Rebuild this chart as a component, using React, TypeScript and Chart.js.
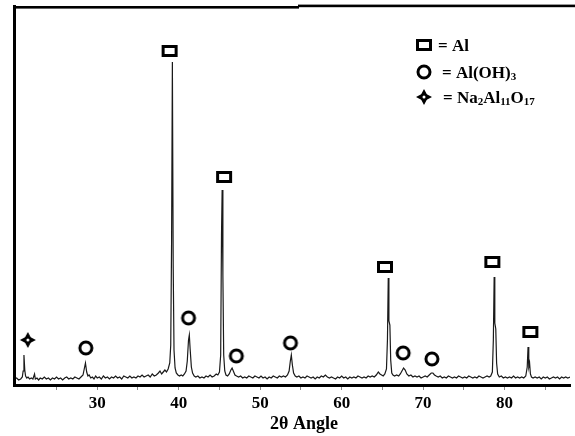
import React, { useEffect, useRef } from "react";
import { Chart, registerables } from "chart.js";
Chart.register(...registerables);

// XRD scan: [2θ, intensity]
const scan: [number, number][] = [
  [19.85, 6], [20.1, 7], [20.35, 5], [20.6, 6], [20.8, 8], [20.9, 14], [21.0, 30], [21.1, 15], [21.2, 9], [21.35, 7],
  [21.5, 8], [21.7, 6], [21.9, 7], [22.1, 6], [22.3, 11], [22.4, 6], [22.6, 7], [22.8, 5], [23.0, 7], [23.25, 6],
  [23.5, 8], [23.75, 6], [24.0, 7], [24.25, 5], [24.5, 7], [24.75, 6], [25.0, 8], [25.25, 6], [25.5, 7], [25.75, 5],
  [26.0, 7], [26.25, 8], [26.5, 6], [26.75, 7], [27.0, 6], [27.25, 8], [27.5, 7], [27.75, 6], [28.0, 8], [28.25, 10],
  [28.4, 16], [28.55, 22], [28.7, 13], [28.85, 9], [29.0, 10], [29.2, 7], [29.4, 8], [29.6, 6], [29.8, 9], [30.0, 7],
  [30.25, 8], [30.5, 6], [30.75, 9], [31.0, 7], [31.25, 8], [31.5, 6], [31.75, 8], [32.0, 7], [32.25, 9], [32.5, 7],
  [32.75, 8], [33.0, 6], [33.25, 9], [33.5, 8], [33.75, 7], [34.0, 9], [34.25, 7], [34.5, 8], [34.75, 7], [35.0, 9],
  [35.25, 8], [35.5, 10], [35.75, 8], [36.0, 9], [36.25, 10], [36.5, 8], [36.75, 11], [37.0, 9], [37.25, 10], [37.5, 12],
  [37.7, 14], [37.9, 11], [38.1, 13], [38.3, 15], [38.5, 13], [38.7, 16], [38.9, 22], [39.02, 40], [39.12, 140], [39.22, 323],
  [39.32, 120], [39.42, 35], [39.55, 17], [39.7, 12], [39.9, 10], [40.1, 9], [40.3, 10], [40.5, 9], [40.7, 11], [40.9, 14],
  [41.05, 24], [41.2, 45], [41.3, 50], [41.4, 36], [41.55, 18], [41.7, 12], [41.9, 9], [42.1, 8], [42.35, 9], [42.6, 7],
  [42.85, 8], [43.1, 7], [43.35, 9], [43.6, 8], [43.85, 10], [44.1, 8], [44.35, 9], [44.6, 11], [44.8, 10], [45.0, 13],
  [45.15, 30], [45.25, 150], [45.33, 195], [45.42, 110], [45.52, 30], [45.65, 14], [45.8, 10], [46.0, 9], [46.2, 11], [46.4, 15],
  [46.55, 17], [46.7, 14], [46.9, 10], [47.1, 9], [47.35, 8], [47.6, 9], [47.85, 7], [48.1, 8], [48.35, 7], [48.6, 9],
  [48.85, 8], [49.1, 7], [49.35, 9], [49.6, 8], [49.85, 7], [50.1, 9], [50.35, 7], [50.6, 8], [50.85, 6], [51.1, 8],
  [51.35, 7], [51.6, 9], [51.85, 8], [52.1, 7], [52.35, 9], [52.6, 8], [52.85, 9], [53.1, 8], [53.35, 10], [53.55, 14],
  [53.7, 24], [53.82, 30], [53.95, 20], [54.1, 12], [54.3, 9], [54.5, 8], [54.75, 9], [55.0, 7], [55.25, 8], [55.5, 7],
  [55.75, 9], [56.0, 8], [56.25, 7], [56.5, 8], [56.75, 6], [57.0, 8], [57.25, 7], [57.5, 9], [57.75, 8], [58.0, 10],
  [58.25, 8], [58.5, 7], [58.75, 8], [59.0, 7], [59.25, 6], [59.5, 8], [59.75, 7], [60.0, 9], [60.25, 7], [60.5, 8],
  [60.75, 6], [61.0, 8], [61.25, 7], [61.5, 8], [61.75, 7], [62.0, 9], [62.25, 8], [62.5, 7], [62.75, 8], [63.0, 7],
  [63.25, 9], [63.5, 8], [63.75, 9], [64.0, 8], [64.25, 10], [64.5, 13], [64.7, 11], [64.9, 10], [65.1, 9], [65.3, 11],
  [65.5, 16], [65.62, 45], [65.72, 107], [65.8, 64], [65.92, 60], [66.02, 25], [66.15, 12], [66.3, 10], [66.5, 9], [66.75, 10],
  [67.0, 9], [67.2, 11], [67.4, 14], [67.6, 17], [67.8, 15], [68.0, 11], [68.25, 9], [68.5, 10], [68.75, 8], [69.0, 9],
  [69.25, 8], [69.5, 9], [69.75, 7], [70.0, 8], [70.25, 9], [70.5, 8], [70.75, 10], [71.0, 12], [71.2, 12], [71.4, 10],
  [71.6, 9], [71.85, 8], [72.1, 9], [72.35, 7], [72.6, 8], [72.85, 7], [73.1, 9], [73.35, 8], [73.6, 7], [73.85, 8],
  [74.1, 7], [74.35, 9], [74.6, 8], [74.85, 7], [75.1, 8], [75.35, 7], [75.6, 9], [75.85, 8], [76.1, 7], [76.35, 8],
  [76.6, 7], [76.85, 9], [77.1, 8], [77.35, 7], [77.6, 8], [77.85, 9], [78.1, 8], [78.3, 9], [78.5, 13], [78.62, 45],
  [78.72, 108], [78.8, 62], [78.92, 56], [79.02, 22], [79.15, 11], [79.35, 8], [79.6, 9], [79.85, 7], [80.1, 8], [80.35, 7],
  [80.6, 8], [80.85, 7], [81.1, 9], [81.35, 7], [81.6, 8], [81.85, 7], [82.1, 8], [82.35, 7], [82.6, 9], [82.78, 18],
  [82.88, 38], [82.97, 18], [83.07, 22], [83.17, 11], [83.3, 8], [83.5, 7], [83.75, 8], [84.0, 7], [84.25, 8], [84.5, 6],
  [84.75, 8], [85.0, 7], [85.25, 8], [85.5, 6], [85.75, 7], [86.0, 8], [86.25, 7], [86.5, 8], [86.75, 6], [87.0, 8],
  [87.25, 7], [87.5, 8], [87.75, 7], [88.1, 8],
];

// phase markers
const alAngles = [38.88, 45.57, 65.32, 78.5, 83.16];
const alLevels = [334, 208, 118, 123, 53];
const ohAngles = [28.6, 41.2, 47.07, 53.72, 67.55, 71.08];
const ohLevels = [37, 67, 29, 42, 32, 26];
const naAngles = [21.48];
const naLevels = [45];

const xTickValues = [25, 30, 35, 40, 45, 50, 55, 60, 65, 70, 75, 80, 85];
const xTickLabels = [30, 40, 50, 60, 70, 80];
const xMin = 19.84;
const xMax = 88.03;
const yMax = 378.5;
const axisTitle = "2θ Angle";

type Seg = { t: string; sub?: boolean };
const legendRows: { shape: "square" | "circle" | "star"; segs: Seg[] }[] = [
  { shape: "square", segs: [{ t: "= Al" }] },
  { shape: "circle", segs: [{ t: "= Al(OH)" }, { t: "3", sub: true }] },
  {
    shape: "star",
    segs: [
      { t: "= Na" }, { t: "2", sub: true }, { t: "Al" }, { t: "11", sub: true }, { t: "O" }, { t: "17", sub: true },
    ],
  },
];

const SERIF = '"Liberation Serif", "Times New Roman", serif';

function makeSquare() {
  const c = document.createElement("canvas");
  c.width = 18; c.height = 14;
  const g = c.getContext("2d")!;
  g.lineWidth = 3; g.strokeStyle = "#000";
  g.strokeRect(2.5, 2.5, 13, 9);
  return c;
}
function makeCircle() {
  const c = document.createElement("canvas");
  c.width = 18; c.height = 18;
  const g = c.getContext("2d")!;
  g.lineWidth = 3; g.strokeStyle = "#000";
  g.beginPath(); g.arc(9, 9, 6, 0, Math.PI * 2); g.stroke();
  return c;
}
function makeStar() {
  const c = document.createElement("canvas");
  c.width = 18; c.height = 18;
  const g = c.getContext("2d")!;
  g.fillStyle = "#000";
  g.beginPath();
  g.moveTo(9, 1); g.lineTo(11.8, 6.2); g.lineTo(17, 9); g.lineTo(11.8, 11.8);
  g.lineTo(9, 17); g.lineTo(6.2, 11.8); g.lineTo(1, 9); g.lineTo(6.2, 6.2);
  g.closePath(); g.fill();
  g.beginPath(); g.arc(9, 9, 3.6, 0, Math.PI * 2); g.fill();
  g.fillStyle = "#fff";
  g.beginPath(); g.arc(9, 9, 1.5, 0, Math.PI * 2); g.fill();
  return c;
}

export default function App() {
  const ref = useRef<HTMLCanvasElement>(null);
  useEffect(() => {
    const sq = makeSquare();
    const ci = makeCircle();
    const st = makeStar();
    const shapes: Record<string, HTMLCanvasElement> = { square: sq, circle: ci, star: st };

    const decor = {
      id: "decor",
      afterDraw(chart: any) {
        const ctx = chart.ctx as CanvasRenderingContext2D;
        ctx.save();
        ctx.fillStyle = "#000";
        // frame: left and top
        ctx.fillRect(13, 5, 3, 382);
        ctx.fillRect(13, 6, 286, 2.6);
        ctx.fillRect(298, 4.6, 277, 2.6);
        // axis title
        ctx.font = `bold 18px ${SERIF}`;
        ctx.textAlign = "center";
        ctx.textBaseline = "alphabetic";
        ctx.fillText(axisTitle, 304, 429);
        // legend
        const rowsY = [45, 72, 97];
        const textX = [438, 442, 443];
        legendRows.forEach((row, i) => {
          const img = shapes[row.shape];
          ctx.drawImage(img, 424 - img.width / 2, rowsY[i] - img.height / 2);
          let x = textX[i];
          ctx.textAlign = "left";
          row.segs.forEach((s) => {
            ctx.font = s.sub ? `bold 11px ${SERIF}` : `bold 17px ${SERIF}`;
            ctx.fillText(s.t, x, rowsY[i] + 6 + (s.sub ? 2 : 0));
            x += ctx.measureText(s.t).width;
          });
        });
        ctx.restore();
      },
    };

    const chart = new Chart(ref.current!, {
      type: "line",
      data: {
        datasets: [
          {
            type: "line",
            data: scan.map(([x, y]) => ({ x, y })),
            borderColor: "#1a1a1a",
            borderWidth: 1.2,
            pointRadius: 0,
            tension: 0,
            order: 2,
          } as any,
          {
            type: "scatter",
            data: alAngles.map((x, i) => ({ x, y: alLevels[i] })),
            pointStyle: sq,
            order: 1,
          } as any,
          {
            type: "scatter",
            data: ohAngles.map((x, i) => ({ x, y: ohLevels[i] })),
            pointStyle: ci,
            order: 1,
          } as any,
          {
            type: "scatter",
            data: naAngles.map((x, i) => ({ x, y: naLevels[i] })),
            pointStyle: st,
            order: 1,
          } as any,
        ],
      },
      options: {
        animation: false,
        responsive: false,
        devicePixelRatio: 1,
        events: [],
        layout: { padding: { left: 14.5, top: 6.5, right: 0, bottom: 0 } },
        plugins: { legend: { display: false }, tooltip: { enabled: false } },
        scales: {
          x: {
            type: "linear",
            min: xMin,
            max: xMax,
            afterBuildTicks: (scale: any) => {
              scale.ticks = xTickValues.map((v) => ({ value: v }));
            },
            afterFit: (scale: any) => {
              scale.height = 51;
            },
            border: { display: true, color: "#000", width: 3 },
            grid: { drawOnChartArea: false, drawTicks: true, tickLength: 5, color: "#888", tickWidth: 1 },
            ticks: {
              autoSkip: false,
              maxRotation: 0,
              padding: 3,
              color: "#000",
              font: { family: SERIF, size: 17, weight: "bold" },
              callback: (v: any) => (xTickLabels.includes(Number(v)) ? String(v) : ""),
            },
          },
          y: { type: "linear", display: false, min: 0, max: yMax },
        },
      } as any,
      plugins: [decor],
    });
    return () => chart.destroy();
  }, []);

  return (
    <div style={{ position: "absolute", left: 0, top: 0, width: 575, height: 436, background: "#fff" }}>
      <canvas ref={ref} width={575} height={436} />
    </div>
  );
}
